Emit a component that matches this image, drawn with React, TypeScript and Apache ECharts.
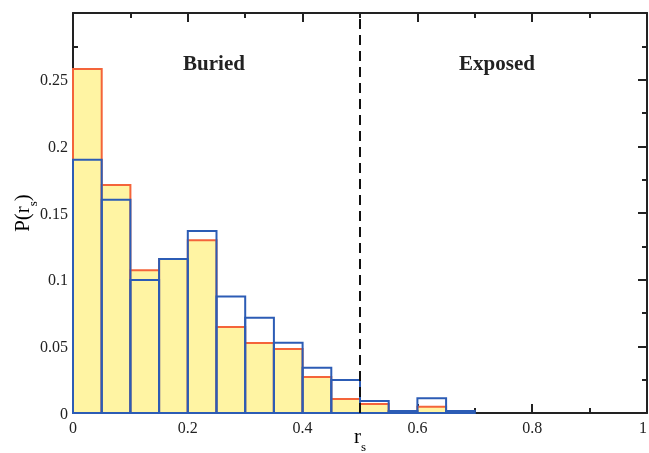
import React, { useEffect, useRef } from "react";
import * as echarts from "echarts";

const binStarts = [0, 0.05, 0.1, 0.15, 0.2, 0.25, 0.3, 0.35, 0.4, 0.45, 0.5, 0.55, 0.6, 0.65];
const binWidth = 0.05;
const redValues = [0.258, 0.171, 0.107, 0.1155, 0.1295, 0.0645, 0.0525, 0.048, 0.027, 0.0105, 0.0068, 0.001, 0.0047, 0];
const blueValues = [0.19, 0.16, 0.0998, 0.1155, 0.1365, 0.0873, 0.0715, 0.0527, 0.034, 0.0248, 0.009, 0.0015, 0.011, 0.0015];
const yTicks = [0, 0.05, 0.1, 0.15, 0.2, 0.25];
const xTicks = [0, 0.2, 0.4, 0.6, 0.8, 1];
const regionLabels = ["Buried", "Exposed"];
const dividerX = 0.5;

const FONT = "'Liberation Serif', 'DejaVu Serif', serif";
const AXIS_COLOR = "#222";

export default function App() {
  const ref = useRef<HTMLDivElement>(null);
  useEffect(() => {
    if (!ref.current) return;
    const chart = echarts.init(ref.current, null, { renderer: "svg" });
    const redData = binStarts.map((s, i) => [s, s + binWidth, redValues[i]]);
    const blueData = binStarts.map((s, i) => [s, s + binWidth, blueValues[i]]);
    const makeRender = (fill: string, stroke: string) => (params: any, api: any) => {
      const p0 = api.coord([api.value(0), api.value(2)]);
      const p1 = api.coord([api.value(1), 0]);
      return {
        type: "rect",
        shape: { x: p0[0], y: p0[1], width: p1[0] - p0[0], height: p1[1] - p0[1] },
        style: { fill, stroke, lineWidth: 2 },
      };
    };
    const tickFmt = (v: number) => String(parseFloat(v.toFixed(3)));
    const common = {
      axisLine: { show: true, onZero: false, lineStyle: { color: AXIS_COLOR, width: 2 } },
      axisTick: { show: true, inside: true, length: 9, lineStyle: { color: AXIS_COLOR, width: 2 } },
      minorTick: { show: true, splitNumber: 2, length: 5, lineStyle: { color: AXIS_COLOR, width: 2 } },
      splitLine: { show: false },
    };
    const subRich = {
      m: { fontFamily: FONT, fontSize: 21, color: "#222", lineHeight: 22, verticalAlign: "top" },
      s: { fontFamily: FONT, fontSize: 13, color: "#222", lineHeight: 27, verticalAlign: "bottom" },
    };
    chart.setOption({
      animation: false,
      grid: { left: 73, top: 13, width: 574, height: 400, outerBoundsMode: "none", containLabel: false },
      xAxis: [
        {
          type: "value", min: 0, max: 1, interval: 0.2, position: "bottom",
          ...common,
          axisLabel: {
            fontFamily: FONT, fontSize: 16, color: "#222", margin: 6,
            alignMaxLabel: "right",
            formatter: (v: number) => (xTicks.some((t) => Math.abs(t - v) < 1e-6) ? tickFmt(v) : ""),
          },
        },
        {
          type: "value", min: 0, max: 1, interval: 0.2, position: "top",
          ...common, axisLabel: { show: false },
        },
      ],
      yAxis: [
        {
          type: "value", min: 0, max: 0.3, interval: 0.05, position: "left",
          ...common,
          axisLabel: {
            fontFamily: FONT, fontSize: 16, color: "#222", margin: 5,
            formatter: (v: number) => (yTicks.some((t) => Math.abs(t - v) < 1e-6) ? tickFmt(v) : ""),
          },
        },
        {
          type: "value", min: 0, max: 0.3, interval: 0.05, position: "right",
          ...common, axisLabel: { show: false },
        },
      ],
      series: [
        {
          type: "custom", name: "red", xAxisIndex: 0, yAxisIndex: 0,
          renderItem: makeRender("#fff4a3", "#f4643a"),
          encode: { x: [0, 1], y: 2 },
          data: redData, z: 2,
        },
        {
          type: "custom", name: "blue", xAxisIndex: 0, yAxisIndex: 0,
          renderItem: makeRender("none", "#2c5cb5"),
          encode: { x: [0, 1], y: 2 },
          data: blueData, z: 3,
          markLine: {
            silent: true, symbol: "none", label: { show: false },
            lineStyle: { color: "#111", type: [10, 6], width: 2 },
            data: [{ xAxis: dividerX }],
            z: 5,
          },
        },
      ],
      graphic: [
        {
          type: "text", x: 214, y: 63,
          style: { text: regionLabels[0], font: `bold 21px ${FONT}`, fill: "#222", align: "center", verticalAlign: "middle" },
        },
        {
          type: "text", x: 497, y: 63,
          style: { text: regionLabels[1], font: `bold 21px ${FONT}`, fill: "#222", align: "center", verticalAlign: "middle" },
        },
        {
          type: "text", x: 25, y: 213, rotation: Math.PI / 2,
          style: { text: "{m|P(r}{s|s}{m|)}", align: "center", verticalAlign: "middle", rich: subRich },
        },
        {
          type: "text", x: 360, y: 439,
          style: { text: "{m|r}{s|s}", align: "center", verticalAlign: "middle", rich: subRich },
        },
      ],
    });
    return () => chart.dispose();
  }, []);
  return <div ref={ref} style={{ position: "fixed", left: 0, top: 0, width: 649, height: 453 }} />;
}
